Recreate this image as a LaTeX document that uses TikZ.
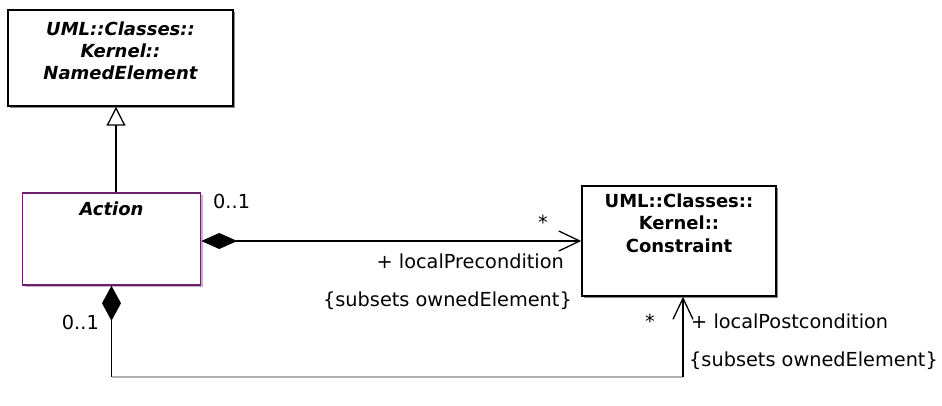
\documentclass[tikz,border=0pt]{standalone}
\usepackage{fontspec}
\setmainfont{DejaVu Sans}
\usetikzlibrary{arrows.meta,shadows}
\definecolor{actionpurple}{rgb}{0.42,0.12,0.42}

\begin{document}
\begin{tikzpicture}[
  x=1pt,y=1pt,
  font=\fontsize{19.3}{23}\selectfont,
  classbox/.style={draw=black, line width=1.5pt, fill=white, inner sep=0pt,
    drop shadow={shadow xshift=2.2pt, shadow yshift=-2.2pt, fill=black!45, opacity=1}},
  classname/.style={font=\fontsize{18}{22.5}\selectfont\bfseries, align=center,
    anchor=north, inner sep=0pt},
  abstractname/.style={classname, font=\fontsize{18}{22}\selectfont\bfseries\itshape},
  generalize/.style={-{Triangle[open, length=19pt, width=19pt, fill=white, line width=1.3pt]},
    line width=1.3pt},
  composite/.style={{Diamond[length=36pt, width=16pt]}-{Straight Barb[length=21pt, width=20pt, line width=1.3pt]},
    line width=1.3pt},
  ownerend/.style={{Diamond[length=35pt, width=19pt]}-, line width=1.3pt},
  navigable/.style={-{Straight Barb[length=21pt, width=20pt, line width=1.3pt]}, line width=1.3pt},
  lowline/.style={draw=black!30, line width=1.3pt},
  endlabel/.style={inner sep=0pt}
]
\path[use as bounding box] (0,0) rectangle (942,405);

% Classes
\node[classbox, minimum width=225pt, minimum height=96pt] (named) at (120.5,347) {};
\node[abstractname] (namedtitle) at ([yshift=-12pt]named.north)
  {UML::Classes::\\Kernel::\\NamedElement};

\node[classbox, draw=actionpurple,
  drop shadow={shadow xshift=2.2pt, shadow yshift=-2.2pt, fill=actionpurple!35, opacity=1},
  minimum width=178pt, minimum height=92pt] (action) at (111.5,166) {};
\node[abstractname] (actiontitle) at ([yshift=-9pt]action.north) {Action};

\node[classbox, minimum width=194pt, minimum height=110pt] (constraint) at (679,164) {};
\node[classname] (constrainttitle) at ([yshift=-8pt]constraint.north)
  {UML::Classes::\\Kernel::\\Constraint};

% Generalization
\draw[generalize] ([xshift=4.5pt]action.north) -- ([xshift=4.5pt]action.north |- named.south);

% localPrecondition
\draw[composite] (action.east |- constraint.west) -- (constraint.west);
\node[endlabel, anchor=base west] (premultA) at (213,197) {0..1};
\node[endlabel, anchor=base] (premultC) at (543,176) {*};
\node[endlabel, anchor=base east] (prerole) at (564,137) {+ localPrecondition};
\node[endlabel, anchor=base east] (presubset) at (572,99) {\{subsets ownedElement\}};

% localPostcondition
\coordinate (postleft) at (action.south |- 0,28);
\coordinate (postright) at (683,28);
\draw[ownerend] (action.south) -- (postleft);
\draw[lowline] (postleft) -- (postright);
\draw[navigable] (postright) -- (postright |- constraint.south);
\node[endlabel, anchor=base east] (postmultA) at (99,76) {0..1};
\node[endlabel, anchor=base] (postmultC) at (650,77) {*};
\node[endlabel, anchor=base west] (postrole) at (691,77) {+ localPostcondition};
\node[endlabel, anchor=base west] (postsubset) at (689,39) {\{subsets ownedElement\}};

\end{tikzpicture}
\end{document}
